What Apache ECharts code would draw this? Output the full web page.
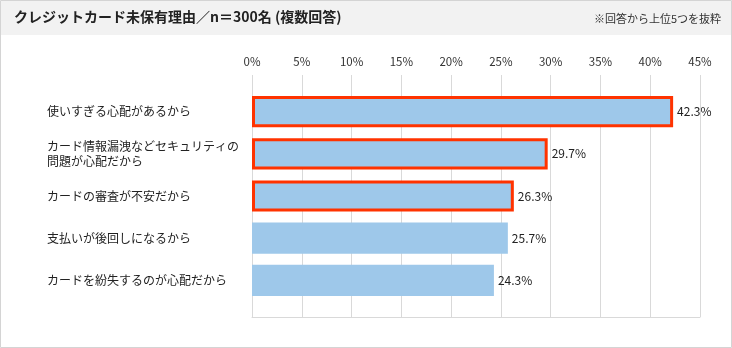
<!DOCTYPE html>
<html><head><meta charset="utf-8">
<script src="https://cdn.jsdelivr.net/npm/echarts@6/dist/echarts.min.js"></script>
<style>html,body{margin:0;padding:0;background:#fff}#c{width:732px;height:348px}</style>
</head><body><div id="c"></div>
<script>
const categories = ['使いすぎる心配があるから','カード情報漏洩などセキュリティの\n問題が心配だから','カードの審査が不安だから','支払いが後回しになるから','カードを紛失するのが心配だから'];
const values = [42.3, 29.7, 26.3, 25.7, 24.3];
const highlighted = [true, true, true, false, false];
const xTicks = [0,5,10,15,20,25,30,35,40,45];
const titleText = 'クレジットカード未保有理由／n＝300名 (複数回答)';
const noteText = '※回答から上位5つを抜粋';

const FONT = '"Noto Sans CJK JP", "Noto Sans", sans-serif';
const chart = echarts.init(document.getElementById('c'), null, {renderer:'canvas'});
const xMin = xTicks[0], xMax = xTicks[xTicks.length-1], xInt = xTicks[1]-xTicks[0];
chart.setOption({
  animation:false,
  graphic:[
    {type:'rect', z:-10, shape:{x:0.5,y:0.5,width:731,height:347}, style:{fill:'#fff', stroke:'#d4d4d4', lineWidth:1}},
    {type:'rect', z:-9, shape:{x:1,y:1,width:730,height:34}, style:{fill:'#f2f2f2'}},
    {type:'text', left:14, top:10, style:{text:titleText, font:'bold 14px '+FONT, fill:'#222'}},
    {type:'text', right:11, top:13, style:{text:noteText, font:'11px '+FONT, fill:'#333'}}
  ],
  grid:[
    {left:252, right:32, top:75, bottom:31},
    {left:252, right:32, top:90.5, height:211}
  ],
  xAxis:[
    {gridIndex:0, type:'value', position:'top', min:xMin, max:xMax, interval:xInt,
     axisLine:{show:false}, axisTick:{show:false},
     axisLabel:{formatter:'{value}%', fontSize:11.5, color:'#333', fontFamily:FONT, margin:8},
     splitLine:{show:true, lineStyle:{color:'#d9d9d9', width:1}}},
    {gridIndex:0, type:'value', position:'bottom', min:xMin, max:xMax, interval:xInt,
     axisLine:{show:true, onZero:false, lineStyle:{color:'#d9d9d9'}}, axisTick:{show:false},
     axisLabel:{show:false}, splitLine:{show:false}},
    {gridIndex:1, type:'value', min:xMin, max:xMax, interval:xInt, show:false}
  ],
  yAxis:[
    {gridIndex:0, type:'value', show:false, min:0, max:1},
    {gridIndex:1, type:'category', inverse:true, data:categories,
     axisLine:{show:false}, axisTick:{show:false}, splitLine:{show:false},
     axisLabel:{align:'left', margin:205, fontSize:12, color:'#222', fontFamily:FONT, lineHeight:15}}
  ],
  series:[{
    type:'bar', xAxisIndex:2, yAxisIndex:1, barWidth:'74%',
    data: values.map((v,i)=>({value:v, itemStyle: highlighted[i] ? {borderColor:'#ff3300', borderWidth:3} : {borderWidth:0}})),
    itemStyle:{color:'#9ec8ea'},
    label:{show:true, position:'right', distance:4, formatter:'{c}%', fontSize:12, color:'#222', fontFamily:FONT}
  }]
});
</script></body></html>
